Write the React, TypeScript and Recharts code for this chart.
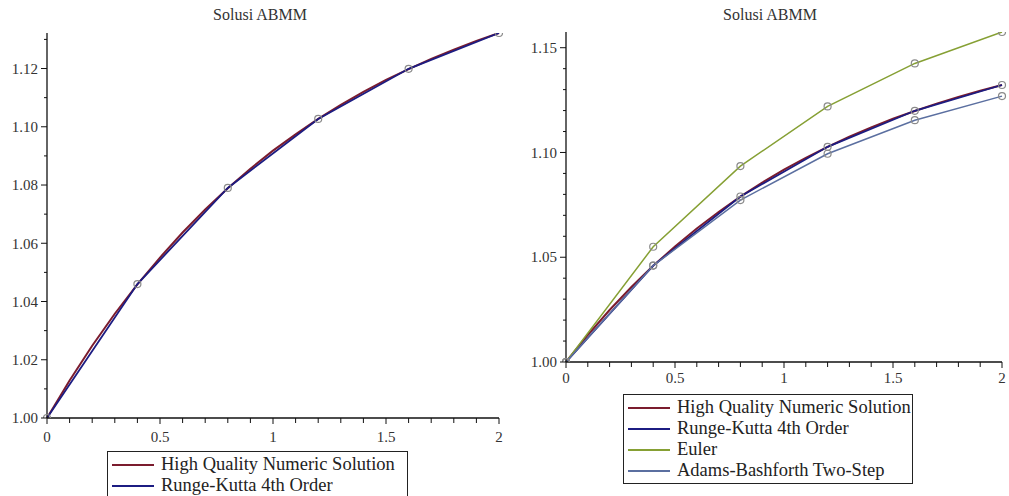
import { LineChart, Line, XAxis, YAxis } from 'recharts'

// step points (h = 0.4)
const stepX = [0, 0.4, 0.8, 1.2, 1.6, 2.0]
const rk4Values = [1.0, 1.046, 1.079, 1.1027, 1.1199, 1.1322]
const eulerValues = [1.0, 1.055, 1.0935, 1.122, 1.1425, 1.1575]
const abValues = [1.0, 1.046, 1.0773, 1.0994, 1.1154, 1.1269]

// high quality numeric solution
const hqX = [0, 0.1, 0.2, 0.3, 0.4, 0.5, 0.6, 0.7, 0.8, 0.9, 1.0, 1.1, 1.2, 1.3, 1.4, 1.5, 1.6, 1.7, 1.8, 1.9, 2.0]
const hqValues = [
  1.0, 1.0129, 1.0248, 1.0358, 1.0459, 1.0551, 1.0637, 1.0716, 1.0789, 1.0856, 1.0918,
  1.0974, 1.1027, 1.1075, 1.112, 1.1161, 1.1198, 1.1233, 1.1265, 1.1295, 1.1322,
]

const xTicks = [0, 0.1, 0.2, 0.3, 0.4, 0.5, 0.6, 0.7, 0.8, 0.9, 1, 1.1, 1.2, 1.3, 1.4, 1.5, 1.6, 1.7, 1.8, 1.9, 2]
const leftYTicks = [1.0, 1.01, 1.02, 1.03, 1.04, 1.05, 1.06, 1.07, 1.08, 1.09, 1.1, 1.11, 1.12, 1.13]
const rightYTicks = [1.0, 1.01, 1.02, 1.03, 1.04, 1.05, 1.06, 1.07, 1.08, 1.09, 1.1, 1.11, 1.12, 1.13, 1.14, 1.15]

const TITLE = 'Solusi ABMM'
const FONT = '"Liberation Serif", "DejaVu Serif", serif'

const COLORS = {
  hq: '#7b1c2e',
  rk4: '#1c1c82',
  euler: '#86a034',
  ab: '#5b6fa0',
}

const toPoints = (xs: number[], ys: number[]) => xs.map((x, i) => ({ x, y: ys[i] }))

const hqData = toPoints(hqX, hqValues)
const rk4Data = toPoints(stepX, rk4Values)
const eulerData = toPoints(stepX, eulerValues)
const abData = toPoints(stepX, abValues)

const marker = { r: 3.5, stroke: '#8a8a8a', strokeWidth: 1.2, fill: 'none' }
const tickText = { fontFamily: FONT, fontSize: 15, fill: '#333' }

const XTick = (props: { x?: number; y?: number; payload?: { value: number }; labelDy: number }) => {
  const { x = 0, y = 0, payload, labelDy } = props
  const v = payload ? payload.value : 0
  const major = Math.round(v * 10) % 5 === 0
  return (
    <g>
      <line x1={x} x2={x} y1={y} y2={y + (major ? 6 : 5)} stroke="#111" strokeWidth={1} />
      {major && (
        <text x={x} y={y + labelDy} textAnchor="middle" style={tickText}>
          {String(Math.round(v * 10) / 10)}
        </text>
      )}
    </g>
  )
}

const YTick = (props: { x?: number; y?: number; payload?: { value: number }; every: number }) => {
  const { x = 0, y = 0, payload, every } = props
  const v = payload ? payload.value : 0
  const major = Math.round(v * 100) % every === 0
  return (
    <g>
      <line x1={x} x2={x - (major ? 6 : 3)} y1={y} y2={y} stroke="#111" strokeWidth={1} />
      {major && (
        <text x={x - 9} y={y} dy="0.35em" textAnchor="end" style={tickText}>
          {v.toFixed(2)}
        </text>
      )}
    </g>
  )
}

interface LegendItem {
  name: string
  color: string
}

function LegendBox({
  items,
  left,
  top,
  width,
  rowHeight,
}: {
  items: LegendItem[]
  left: number
  top: number
  width: number
  rowHeight: number
}) {
  return (
    <div
      style={{
        position: 'absolute',
        left,
        top,
        width,
        border: '1.5px solid #222',
        background: '#fff',
        padding: '2px 0',
        boxSizing: 'border-box',
        fontFamily: FONT,
        fontSize: 18.5,
        color: '#222',
      }}
    >
      {items.map((it) => (
        <div key={it.name} style={{ display: 'flex', alignItems: 'center', height: rowHeight }}>
          <span
            style={{
              display: 'inline-block',
              width: 42,
              borderTop: `2.5px solid ${it.color}`,
              marginLeft: 4,
              marginRight: 7,
            }}
          />
          <span style={{ whiteSpace: 'nowrap' }}>{it.name}</span>
        </div>
      ))}
    </div>
  )
}

const titleStyle = (center: number): React.CSSProperties => ({
  position: 'absolute',
  top: 6,
  left: center - 100,
  width: 200,
  textAlign: 'center',
  fontFamily: FONT,
  fontSize: 16,
  color: '#333',
})

export default function App() {
  return (
    <div style={{ position: 'relative', width: 1009, height: 496, overflow: 'hidden', background: '#fff' }}>
      <style>{'body{margin:0}'}</style>

      <div style={titleStyle(260)}>{TITLE}</div>
      <div style={{ position: 'absolute', left: 0, top: 0 }}>
        <LineChart width={510} height={496} margin={{ top: 33, right: 11, bottom: 58, left: 0 }}>
          <XAxis
            dataKey="x"
            type="number"
            domain={[0, 2]}
            ticks={xTicks}
            interval={0}
            tickSize={0}
            tickMargin={0}
            tickLine={false}
            height={20}
            axisLine={{ stroke: '#111', strokeWidth: 1.3 }}
            tick={<XTick labelDy={24} />}
          />
          <YAxis
            type="number"
            domain={[1, 1.1322]}
            ticks={leftYTicks}
            interval={0}
            allowDataOverflow
            tickSize={0}
            tickMargin={0}
            tickLine={false}
            width={47}
            axisLine={{ stroke: '#111', strokeWidth: 1.3 }}
            tick={<YTick every={2} />}
          />
          <Line data={hqData} dataKey="y" stroke={COLORS.hq} strokeWidth={2} dot={false} isAnimationActive={false} />
          <Line data={rk4Data} dataKey="y" stroke={COLORS.rk4} strokeWidth={1.8} dot={marker} isAnimationActive={false} />
        </LineChart>
      </div>
      <LegendBox
        left={107}
        top={451}
        width={301}
        rowHeight={21}
        items={[
          { name: 'High Quality Numeric Solution', color: COLORS.hq },
          { name: 'Runge-Kutta 4th Order', color: COLORS.rk4 },
        ]}
      />

      <div style={titleStyle(770)}>{TITLE}</div>
      <div style={{ position: 'absolute', left: 510, top: 0 }}>
        <LineChart width={499} height={496} margin={{ top: 32, right: 7, bottom: 114, left: 0 }}>
          <XAxis
            dataKey="x"
            type="number"
            domain={[0, 2]}
            ticks={xTicks}
            interval={0}
            tickSize={0}
            tickMargin={0}
            tickLine={false}
            height={20}
            axisLine={{ stroke: '#111', strokeWidth: 1.3 }}
            tick={<XTick labelDy={21} />}
          />
          <YAxis
            type="number"
            domain={[1, 1.1575]}
            ticks={rightYTicks}
            interval={0}
            allowDataOverflow
            tickSize={0}
            tickMargin={0}
            tickLine={false}
            width={56}
            axisLine={{ stroke: '#111', strokeWidth: 1.3 }}
            tick={<YTick every={5} />}
          />
          <Line data={hqData} dataKey="y" stroke={COLORS.hq} strokeWidth={2} dot={false} isAnimationActive={false} />
          <Line data={rk4Data} dataKey="y" stroke={COLORS.rk4} strokeWidth={1.8} dot={marker} isAnimationActive={false} />
          <Line data={eulerData} dataKey="y" stroke={COLORS.euler} strokeWidth={1.5} dot={marker} isAnimationActive={false} />
          <Line data={abData} dataKey="y" stroke={COLORS.ab} strokeWidth={1.5} dot={marker} isAnimationActive={false} />
        </LineChart>
      </div>
      <LegendBox
        left={623}
        top={394}
        width={290}
        rowHeight={21}
        items={[
          { name: 'High Quality Numeric Solution', color: COLORS.hq },
          { name: 'Runge-Kutta 4th Order', color: COLORS.rk4 },
          { name: 'Euler', color: COLORS.euler },
          { name: 'Adams-Bashforth Two-Step', color: COLORS.ab },
        ]}
      />
    </div>
  )
}
